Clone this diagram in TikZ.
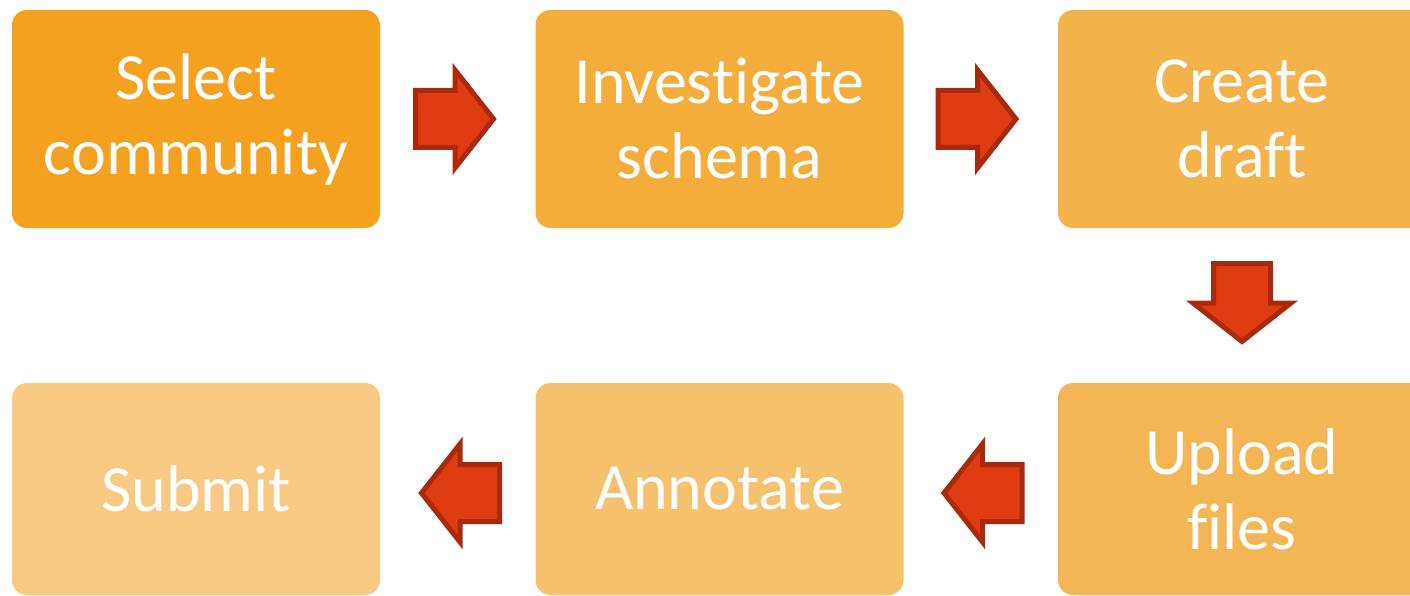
\documentclass[tikz,border=0pt]{standalone}
\usepackage{fontspec}
\setmainfont{Carlito}[Ligatures=NoCommon]
\definecolor{stepA}{HTML}{F4A11F}
\definecolor{stepB}{HTML}{F4AC3B}
\definecolor{stepC}{HTML}{F4B24A}
\definecolor{stepD}{HTML}{F4B655}
\definecolor{stepE}{HTML}{F6C16C}
\definecolor{stepF}{HTML}{F7C982}
\definecolor{arrowfill}{HTML}{E03C12}
\definecolor{arrowline}{HTML}{A8290C}
\tikzset{
  stepbox/.style={rectangle, rounded corners=15pt, minimum width=368pt,
    inner sep=0pt, text=white, align=center,
    font=\fontsize{66}{75}\selectfont},
  toprow/.style={stepbox, minimum height=218pt},
  botrow/.style={stepbox, minimum height=212pt},
  arrowstyle/.style={fill=arrowfill, draw=arrowline, line width=5pt, line join=miter},
  blockarrow/.pic={
    \path[arrowstyle] (-39.5,-28.5) -- (0,-28.5) -- (0,-49) -- (38.5,0)
      -- (0,49) -- (0,28.5) -- (-39.5,28.5) -- cycle;
  }
}
\begin{document}
\begin{tikzpicture}[x=1pt, y=-1pt]
  \useasboundingbox (0,0) rectangle (1410,596);
  \clip (0,0) rectangle (1410,596);
  % process steps
  \node[toprow, fill=stepA] (select) at (196,119) {Select\\community};
  \node[toprow, fill=stepB] (investigate) at (719.5,119) {Investigate\\schema};
  \node[toprow, fill=stepC] (draft) at (1242,119) {Create\\draft};
  \node[botrow, fill=stepD] (upload) at (1242,489) {Upload\\files};
  \node[botrow, fill=stepE] (annotate) at (719.5,489) {Annotate};
  \node[botrow, fill=stepF] (submit) at (196,489) {Submit};
  % block arrows between the steps
  \pic at (455,119) {blockarrow};
  \pic at (977.5,119) {blockarrow};
  \pic[rotate=-90] at (1242,303) {blockarrow};
  \pic[rotate=180] at (982.5,493) {blockarrow};
  \pic[rotate=180] at (460,493) {blockarrow};
\end{tikzpicture}
\end{document}
